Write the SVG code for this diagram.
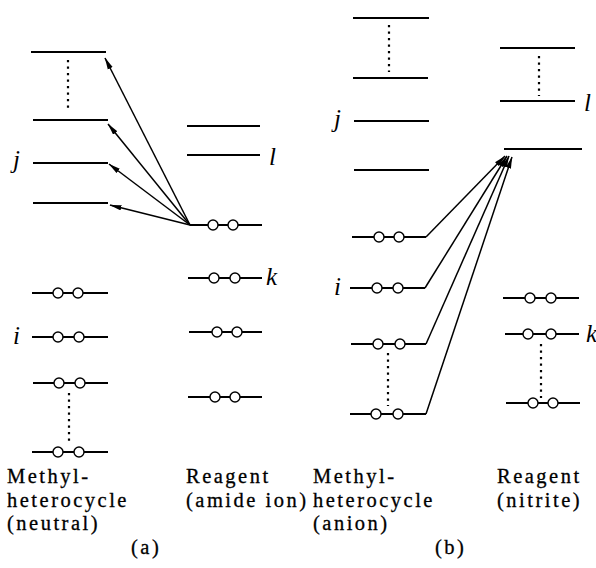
<svg xmlns="http://www.w3.org/2000/svg" width="596" height="568" viewBox="0 0 596 568">
  <style>
    .lvl { stroke: #000; stroke-width: 2; fill: none; }
    .dots { stroke: #000; stroke-width: 2.2; stroke-dasharray: 2.2 4.3; fill: none; }
    .e { stroke: #000; stroke-width: 1.4; fill: #fff; }
    .arr { stroke: #000; stroke-width: 1.5; fill: none; marker-end: url(#head); }
    .lab { font-family: "Liberation Serif", serif; font-style: italic; font-size: 25px; fill: #000; }
    .cap { font-family: "Liberation Serif", serif; font-size: 20.5px; letter-spacing: 2.5px; fill: #000; stroke: #000; stroke-width: 0.3; }
  </style>
  <defs>
    <marker id="head" viewBox="0 0 12 6" refX="11.5" refY="3" markerWidth="12" markerHeight="6" markerUnits="userSpaceOnUse" orient="auto">
      <path d="M0,0.3 L12,3 L0,5.7 Z" fill="#000"/>
    </marker>
  </defs>

  <rect width="596" height="568" fill="#fff"/>

  <!-- (a) methyl-heterocycle, neutral -->
  <g id="mh-a">
    <line class="lvl" x1="31" y1="52" x2="106" y2="52"/>
    <line class="dots" x1="68" y1="60" x2="68" y2="112"/>
    <line class="lvl" x1="33" y1="120" x2="108" y2="120"/>
    <line class="lvl" x1="33" y1="163" x2="108" y2="163"/>
    <line class="lvl" x1="33" y1="203" x2="108" y2="203"/>
    <line class="lvl" x1="32" y1="293" x2="108" y2="293"/>
    <circle class="e" cx="58" cy="293" r="5"/><circle class="e" cx="78" cy="293" r="5"/>
    <line class="lvl" x1="32" y1="337" x2="108" y2="337"/>
    <circle class="e" cx="58" cy="337" r="5"/><circle class="e" cx="79" cy="337" r="5"/>
    <line class="lvl" x1="33" y1="383" x2="108" y2="383"/>
    <circle class="e" cx="59" cy="383" r="5"/><circle class="e" cx="80" cy="383" r="5"/>
    <line class="dots" x1="69" y1="393" x2="69" y2="441"/>
    <line class="lvl" x1="32" y1="452" x2="108" y2="452"/>
    <circle class="e" cx="58" cy="452" r="5"/><circle class="e" cx="79" cy="452" r="5"/>
    <text class="lab" x="13" y="168">j</text>
    <text class="lab" x="13" y="344">i</text>
  </g>

  <!-- (a) reagent, amide ion -->
  <g id="rg-a">
    <line class="lvl" x1="187" y1="126" x2="260" y2="126"/>
    <line class="lvl" x1="187" y1="155" x2="260" y2="155"/>
    <line class="lvl" x1="190" y1="225" x2="262" y2="225"/>
    <circle class="e" cx="213" cy="225" r="5"/><circle class="e" cx="233" cy="225" r="5"/>
    <line class="lvl" x1="188" y1="278" x2="262" y2="278"/>
    <circle class="e" cx="214" cy="278" r="5"/><circle class="e" cx="235" cy="278" r="5"/>
    <line class="lvl" x1="189" y1="332" x2="262" y2="332"/>
    <circle class="e" cx="217" cy="332" r="5"/><circle class="e" cx="237" cy="332" r="5"/>
    <line class="lvl" x1="188" y1="397" x2="262" y2="397"/>
    <circle class="e" cx="215" cy="397" r="5"/><circle class="e" cx="235" cy="397" r="5"/>
    <text class="lab" x="269" y="165">l</text>
    <text class="lab" x="266" y="285">k</text>
  </g>

  <!-- (b) methyl-heterocycle, anion -->
  <g id="mh-b">
    <line class="lvl" x1="353" y1="18" x2="429" y2="18"/>
    <line class="dots" x1="389" y1="25" x2="389" y2="72"/>
    <line class="lvl" x1="353" y1="78" x2="428" y2="78"/>
    <line class="lvl" x1="354" y1="121" x2="429" y2="121"/>
    <line class="lvl" x1="354" y1="170" x2="429" y2="170"/>
    <line class="lvl" x1="352" y1="237" x2="426" y2="237"/>
    <circle class="e" cx="379" cy="237" r="5"/><circle class="e" cx="399" cy="237" r="5"/>
    <line class="lvl" x1="350" y1="288" x2="425" y2="288"/>
    <circle class="e" cx="377" cy="288" r="5"/><circle class="e" cx="398" cy="288" r="5"/>
    <line class="lvl" x1="351" y1="344" x2="426" y2="344"/>
    <circle class="e" cx="378" cy="344" r="5"/><circle class="e" cx="400" cy="344" r="5"/>
    <line class="dots" x1="388" y1="353" x2="388" y2="406"/>
    <line class="lvl" x1="350" y1="414" x2="426" y2="414"/>
    <circle class="e" cx="376" cy="414" r="5"/><circle class="e" cx="398" cy="414" r="5"/>
    <text class="lab" x="334" y="127">j</text>
    <text class="lab" x="334" y="295">i</text>
  </g>

  <!-- (b) reagent, nitrite -->
  <g id="rg-b">
    <line class="lvl" x1="500" y1="48" x2="575" y2="48"/>
    <line class="dots" x1="539" y1="56" x2="539" y2="96"/>
    <line class="lvl" x1="500" y1="101" x2="575" y2="101"/>
    <line class="lvl" x1="504" y1="149" x2="582" y2="149"/>
    <line class="lvl" x1="503" y1="298" x2="579" y2="298"/>
    <circle class="e" cx="530" cy="298" r="5"/><circle class="e" cx="551" cy="298" r="5"/>
    <line class="lvl" x1="505" y1="334" x2="579" y2="334"/>
    <circle class="e" cx="528" cy="334" r="5"/><circle class="e" cx="551" cy="334" r="5"/>
    <line class="dots" x1="541" y1="344" x2="541" y2="398"/>
    <line class="lvl" x1="506" y1="403" x2="580" y2="403"/>
    <circle class="e" cx="533" cy="403" r="5"/><circle class="e" cx="553" cy="403" r="5"/>
    <text class="lab" x="584" y="111">l</text>
    <text class="lab" x="586" y="342">k</text>
  </g>

  <!-- electron-transfer connectors -->
  <g id="connectors">
    <line class="arr" x1="190" y1="225" x2="105" y2="58"/>
    <line class="arr" x1="190" y1="225" x2="108" y2="124"/>
    <line class="arr" x1="190" y1="225" x2="109" y2="164"/>
    <line class="arr" x1="190" y1="225" x2="110" y2="205"/>
    <line class="arr" x1="426" y1="237" x2="505" y2="156"/>
    <line class="arr" x1="425" y1="288" x2="507" y2="156"/>
    <line class="arr" x1="426" y1="344" x2="509" y2="156"/>
    <line class="arr" x1="426" y1="414" x2="512" y2="157"/>
  </g>

  <!-- captions -->
  <g id="captions">
    <text class="cap" x="7" y="483">Methyl-</text>
    <text class="cap" x="7" y="506.5">heterocycle</text>
    <text class="cap" x="7" y="530">(neutral)</text>
    <text class="cap" x="131" y="553.5">(a)</text>
    <text class="cap" x="186" y="483">Reagent</text>
    <text class="cap" x="186" y="506.5">(amide ion)</text>
    <text class="cap" x="313" y="483">Methyl-</text>
    <text class="cap" x="313" y="506.5">heterocycle</text>
    <text class="cap" x="313" y="530">(anion)</text>
    <text class="cap" x="435" y="553.5">(b)</text>
    <text class="cap" x="497" y="483">Reagent</text>
    <text class="cap" x="497" y="506.5">(nitrite)</text>
  </g>
</svg>
